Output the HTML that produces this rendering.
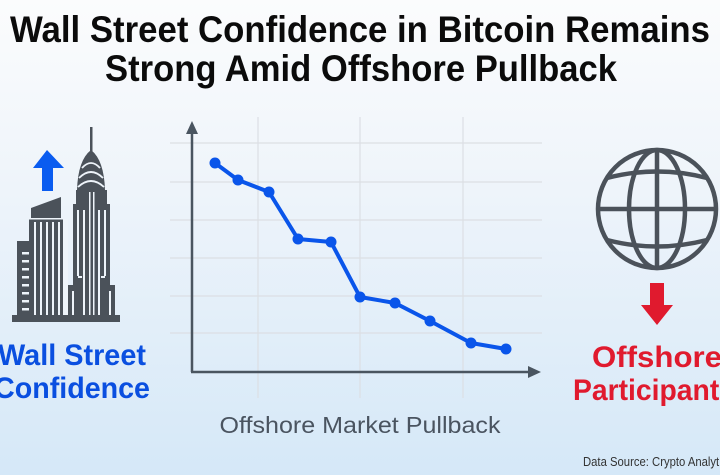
<!DOCTYPE html>
<html><head><meta charset="utf-8"><style>
html,body{margin:0;padding:0;width:720px;height:475px;overflow:hidden}
svg{display:block}
text{font-family:"Liberation Sans",sans-serif}
</style></head><body>
<svg width="720" height="475" viewBox="0 0 720 475" xmlns="http://www.w3.org/2000/svg">
<defs>
<linearGradient id="bg" x1="0" y1="0" x2="0" y2="1">
<stop offset="0" stop-color="#fbfcfd"/><stop offset="0.4" stop-color="#eef4fa"/><stop offset="1" stop-color="#d5e8f8"/>
</linearGradient>
</defs>
<rect width="720" height="475" fill="url(#bg)"/>
<text x="360" y="42" font-size="37" font-weight="bold" text-anchor="middle" textLength="700" lengthAdjust="spacingAndGlyphs" fill="#0b0b0b">Wall Street Confidence in Bitcoin Remains</text>
<text x="361" y="81" font-size="37" font-weight="bold" text-anchor="middle" textLength="512" lengthAdjust="spacingAndGlyphs" fill="#0b0b0b">Strong Amid Offshore Pullback</text>

<g stroke="#dcdfe4" stroke-width="1.2">
<line x1="170" y1="143" x2="542" y2="143"/><line x1="170" y1="182" x2="542" y2="182"/>
<line x1="170" y1="220" x2="542" y2="220"/><line x1="170" y1="258" x2="542" y2="258"/>
<line x1="170" y1="296" x2="542" y2="296"/><line x1="170" y1="333" x2="542" y2="333"/>
<line x1="258" y1="117" x2="258" y2="398"/><line x1="360" y1="117" x2="360" y2="398"/>
<line x1="463" y1="117" x2="463" y2="398"/>
</g>
<g stroke="#4a5560" stroke-width="2.5" fill="none">
<line x1="192" y1="128" x2="192" y2="372"/><line x1="191" y1="372" x2="532" y2="372"/>
</g>
<polygon points="192,121 186,134 198,134" fill="#4a5560"/>
<polygon points="541,372 528,366 528,378" fill="#4a5560"/>
<polyline points="215,163 238,180 269,192 298,239 331,242 360,297 395,303 430,321 471,343 506,349" fill="none" stroke="#0a55ea" stroke-width="4" stroke-linejoin="round"/>
<g fill="#0a55ea">
<circle cx="215" cy="163" r="5.5"/><circle cx="238" cy="180" r="5.5"/><circle cx="269" cy="192" r="5.5"/>
<circle cx="298" cy="239" r="5.5"/><circle cx="331" cy="242" r="5.5"/><circle cx="360" cy="297" r="5.5"/>
<circle cx="395" cy="303" r="5.5"/><circle cx="430" cy="321" r="5.5"/><circle cx="471" cy="343" r="5.5"/>
<circle cx="506" cy="349" r="5.5"/>
</g>
<text x="360" y="433" font-size="23" text-anchor="middle" textLength="281" lengthAdjust="spacingAndGlyphs" fill="#4a5460">Offshore Market Pullback</text>

<polygon points="47,150 33,168 42,168 42,191 53,191 53,168 64,168" fill="#0a5cf0"/>
<g fill="#4b525a">
<rect x="12" y="315" width="108" height="7"/>
<rect x="17" y="241" width="16" height="74"/>
<polygon points="31,208 61,197 61,218 31,218"/>
<rect x="29" y="219" width="34" height="96"/>
<rect x="90" y="127" width="2.5" height="25"/>
<path d="M77,190 Q78,160 91,150 Q104,160 105,190 Z"/>
<rect x="76" y="190" width="31" height="14"/>
<rect x="73" y="204" width="37" height="111"/>
<rect x="68" y="285" width="10" height="30"/>
<rect x="105" y="285" width="10" height="30"/>
</g>
<g fill="#eef4fa">
<rect x="22" y="252" width="7" height="2.5"/><rect x="22" y="260" width="7" height="2.5"/>
<rect x="22" y="268" width="7" height="2.5"/><rect x="22" y="276" width="7" height="2.5"/>
<rect x="22" y="284" width="7" height="2.5"/><rect x="22" y="292" width="7" height="2.5"/>
<rect x="22" y="300" width="7" height="2.5"/><rect x="22" y="308" width="7" height="2.5"/>
<rect x="29" y="218" width="34" height="1.5"/>
<rect x="34" y="222" width="2" height="93"/><rect x="40" y="222" width="2" height="93"/>
<rect x="46" y="222" width="2" height="93"/><rect x="52" y="222" width="2" height="93"/>
<rect x="58" y="222" width="2" height="93"/>
<rect x="63" y="219" width="5" height="96"/>
<rect x="89" y="192" width="1.5" height="123"/><rect x="93" y="192" width="1.5" height="123"/>
<rect x="77" y="210" width="2" height="66"/><rect x="104" y="210" width="2" height="66"/>
<rect x="83" y="210" width="2" height="105"/><rect x="98" y="210" width="2" height="105"/>
<rect x="78" y="276" width="4" height="2"/><rect x="101" y="276" width="4" height="2"/>
<rect x="72" y="291" width="2" height="24"/><rect x="109" y="291" width="2" height="24"/>
</g>
<g fill="none" stroke="#eef4fa" stroke-width="1.8">
<path d="M82,168 Q91,158 100,168"/><path d="M79,178 Q91,166 103,178"/><path d="M78,187 Q91,175 104,187"/>
</g>
<text x="72" y="365" font-size="30" font-weight="bold" text-anchor="middle" textLength="148" lengthAdjust="spacingAndGlyphs" fill="#0a4fe0">Wall Street</text>
<text x="72" y="398" font-size="30" font-weight="bold" text-anchor="middle" textLength="156" lengthAdjust="spacingAndGlyphs" fill="#0a4fe0">Confidence</text>

<g fill="none" stroke="#4b525a" stroke-width="4.5">
<circle cx="657" cy="209" r="59"/>
<ellipse cx="657" cy="209" rx="28" ry="59"/>
<line x1="657" y1="150" x2="657" y2="268"/>
<line x1="598" y1="209" x2="716" y2="209"/>
<path d="M607,178 Q657,165 707,178"/><path d="M607,240 Q657,253 707,240"/>
</g>
<polygon points="650,283 664,283 664,305 673,305 657,325 641,305 650,305" fill="#e01a2e"/>
<text x="592" y="367" font-size="30" font-weight="bold" textLength="130" lengthAdjust="spacingAndGlyphs" fill="#e01a2e">Offshore</text>
<text x="573" y="400" font-size="30" font-weight="bold" textLength="162" lengthAdjust="spacingAndGlyphs" fill="#e01a2e">Participants</text>
<text x="583" y="466" font-size="12.5" textLength="150" lengthAdjust="spacingAndGlyphs" fill="#333">Data Source: Crypto Analytics</text>
</svg>
</body></html>
